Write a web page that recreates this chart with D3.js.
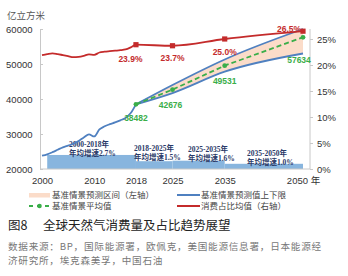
<!DOCTYPE html>
<html>
<head>
<meta charset="utf-8">
<script src="https://cdn.jsdelivr.net/npm/d3@7"></script>
<style>
  body { margin: 0; background: #fff; }
  svg { display: block; }
  text { font-family: "Liberation Sans", Arial, "Noto Sans CJK SC", sans-serif; }
  .cjk { font-family: "Noto Sans CJK SC", "Liberation Sans", sans-serif; }
</style>
</head>
<body>
<script>
// ---------- data ----------
const histYears = [2000,2001,2002,2003,2004,2005,2006,2007,2008,2009,2010,2011,2012,2013,2014,2015,2016,2017,2018];
const histConsumption = [23800,24200,24800,25500,26200,26700,27200,28000,29000,29900,29300,31300,32200,32800,33300,33900,34600,36000,38482];
const histShare = [21.9,22.1,22.25,22.1,21.9,21.7,21.5,21.55,21.75,22.05,21.95,22.4,22.55,22.65,22.75,22.85,23.0,23.4,23.9];

const fcYears = [2018, 2025, 2035, 2050];
const fcMean  = [38482, 42676, 49531, 57634];
const fcUpper = [38482, 44000, 51300, 60000];
const fcLower = [38482, 41700, 47800, 53000];
const fcShare = [23.9, 23.7, 25.0, 26.5];
const fcShareLabels = ["23.9%", "23.7%", "25.0%", "26.5%"];

const growthStart = [2001, 2018, 2025, 2035];
const growthEnd   = [2018, 2025, 2035, 2050];
const growthRate  = [2.7, 1.5, 1.6, 1.0];
const growthPeriod = ["2000-2018年", "2018-2025年", "2025-2035年", "2035-2050年"];

const xTicks = [2000, 2010, 2018, 2025, 2035, 2050];
const leftTicks = [20000, 30000, 40000, 50000, 60000];
const rightTicks = [0, 5, 10, 15, 20, 25];

// ---------- layout ----------
const W = 348, H = 276;
const svg = d3.select("body").append("svg").attr("width", W).attr("height", H);

const x = d3.scaleLinear().domain([2000, 2050]).range([42, 303]);
const yL = d3.scaleLinear().domain([20000, 60000]).range([169, 29]);
const yR = d3.scaleLinear().domain([0, 26.92]).range([169, 29]);

const C = {
  blue: "#4f80c0", bar: "#88b5de", band: "#fbdcc9", green: "#3aae49",
  red: "#c42b2b", axis: "#c8c8c8", text: "#333", navy: "#2c3a68"
};

// growth bars (right-axis % scale)
svg.append("g").selectAll("rect").data(growthRate).join("rect")
  .attr("x", (d,i) => x(growthStart[i]))
  .attr("width", (d,i) => x(growthEnd[i]) - x(growthStart[i]))
  .attr("y", d => yR(d))
  .attr("height", d => yR(0) - yR(d))
  .attr("fill", C.bar);

// growth labels
const glPos = [[69,144],[134,148],[188,149],[247,153.5]];
const gl = svg.append("g").attr("font-size", 7.5).attr("font-weight", "bold").attr("fill", C.navy);
growthRate.forEach((r,i) => {
  gl.append("text").attr("x", glPos[i][0]).attr("y", glPos[i][1]).attr("dy","0.35em")
    .style("font-family", '"Liberation Serif","Noto Sans CJK SC",serif').text(growthPeriod[i]);
  gl.append("text").attr("x", glPos[i][0]).attr("y", glPos[i][1] + 9).attr("dy","0.35em")
    .style("font-family", '"Liberation Serif","Noto Sans CJK SC",serif').text("年均增速" + r.toFixed(1) + "%");
});

// axes
svg.append("line").attr("x1", 40).attr("x2", 310).attr("y1", 169).attr("y2", 169)
  .attr("stroke", C.axis).attr("stroke-width", 1);

const gL = svg.append("g").attr("transform", "translate(40,0)")
  .call(d3.axisLeft(yL).tickValues(leftTicks).tickFormat(d3.format("d")).tickSizeInner(-3).tickSizeOuter(0).tickPadding(7.5));
const gR = svg.append("g").attr("transform", "translate(310,0)")
  .call(d3.axisRight(yR).tickValues(rightTicks).tickFormat(d => d + "%").tickSizeInner(3).tickSizeOuter(0).tickPadding(4));
gR.select(".domain").attr("d", `M0,${yR(0)}V29`);
[gL, gR].forEach(g => {
  g.select(".domain").attr("stroke", C.axis);
  g.selectAll(".tick line").attr("stroke", C.axis);
  g.selectAll(".tick text").attr("font-size", 9.5).attr("fill", C.text)
    .style("font-family", '"Liberation Sans", Arial, sans-serif');
});

const gB = svg.append("g").attr("transform", "translate(0,169)")
  .call(d3.axisBottom(x).tickValues(xTicks).tickFormat(d => d === 2050 ? "2050 年" : String(d)).tickSize(0).tickPadding(8));
gB.select(".domain").remove();
gB.selectAll(".tick text").attr("font-size", 9.5).attr("fill", C.text)
  .style("font-family", '"Liberation Sans","Noto Sans CJK SC", sans-serif');

svg.append("text").attr("class","cjk").attr("x", 7).attr("y", 16).attr("dy","0.35em")
  .attr("font-size", 9.5).attr("fill", "#555").text("亿立方米");

// forecast band
const fc = fcYears.map((y,i) => ({y, m: fcMean[i], u: fcUpper[i], l: fcLower[i], s: fcShare[i]}));
svg.append("path").datum(fc)
  .attr("d", d3.area().x(d => x(d.y)).y0(d => yL(d.l)).y1(d => yL(d.u)).curve(d3.curveMonotoneX))
  .attr("fill", C.band);
["u","l"].forEach(k => {
  svg.append("path").datum(fc)
    .attr("d", d3.line().x(d => x(d.y)).y(d => yL(d[k])).curve(d3.curveMonotoneX))
    .attr("fill","none").attr("stroke", C.blue).attr("stroke-width", 1.8);
});

// historical consumption
const hist = histYears.map((y,i) => ({y, v: histConsumption[i], s: histShare[i]}));
svg.append("path").datum(hist)
  .attr("d", d3.line().x(d => x(d.y)).y(d => yL(d.v)).curve(d3.curveMonotoneX))
  .attr("fill","none").attr("stroke", C.blue).attr("stroke-width", 1.8);

// mean dashed
svg.append("path").datum(fc)
  .attr("d", d3.line().x(d => x(d.y)).y(d => yL(d.m)))
  .attr("fill","none").attr("stroke", C.green).attr("stroke-width", 1.8).attr("stroke-dasharray","5,3");
svg.append("g").selectAll("circle").data(fc).join("circle")
  .attr("cx", d => x(d.y)).attr("cy", d => yL(d.m)).attr("r", 2.4).attr("fill", C.green);
const gOff = [[0,14],[-2,15.5],[0,15.5],[-4,23]];
svg.append("g").selectAll("text").data(fc).join("text")
  .attr("x", (d,i) => x(d.y) + gOff[i][0]).attr("y", (d,i) => yL(d.m) + gOff[i][1]).attr("dy","0.35em")
  .attr("text-anchor","middle").attr("font-size", 8.5).attr("font-weight","bold").attr("fill", C.green)
  .text(d => String(d.m));

// share line
const shareAll = hist.map(d => ({y: d.y, s: d.s})).concat(fc.slice(1).map(d => ({y: d.y, s: d.s})));
svg.append("path").datum(shareAll)
  .attr("d", d3.line().x(d => x(d.y)).y(d => yR(d.s)).curve(d3.curveMonotoneX))
  .attr("fill","none").attr("stroke", C.red).attr("stroke-width", 1.8);
svg.append("g").selectAll("rect").data(fc).join("rect")
  .attr("x", d => x(d.y) - 2.6).attr("y", d => yR(d.s) - 2.6).attr("width", 5.2).attr("height", 5.2)
  .attr("fill", C.red);
const rOff = [[-5.5,14],[0,12.5],[0,12.7],[-14,-2]];
svg.append("g").selectAll("text").data(fc).join("text")
  .attr("x", (d,i) => x(d.y) + rOff[i][0]).attr("y", (d,i) => yR(d.s) + rOff[i][1]).attr("dy","0.35em")
  .attr("text-anchor","middle").attr("font-size", 8.5).attr("font-weight","bold").attr("fill", C.red)
  .text((d,i) => fcShareLabels[i]);

// legend
const lg = svg.append("g").attr("font-size", 8.5).attr("fill", "#444");
lg.append("rect").attr("x", 29).attr("y", 193).attr("width", 21).attr("height", 4.5).attr("fill", C.band);
lg.append("text").attr("class","cjk").attr("x", 52).attr("y", 195).attr("dy","0.35em").text("基准情景预测区间（左轴）");
lg.append("line").attr("x1", 177).attr("x2", 200).attr("y1", 195).attr("y2", 195).attr("stroke", C.blue).attr("stroke-width", 2);
lg.append("text").attr("class","cjk").attr("x", 201).attr("y", 195).attr("dy","0.35em").text("基准情景预测值上下限");
lg.append("line").attr("x1", 29).attr("x2", 50).attr("y1", 206).attr("y2", 206).attr("stroke", C.green).attr("stroke-width", 1.8).attr("stroke-dasharray","4,4");
lg.append("circle").attr("cx", 39.5).attr("cy", 206).attr("r", 2.3).attr("fill", C.green);
lg.append("text").attr("class","cjk").attr("x", 52).attr("y", 206).attr("dy","0.35em").text("基准情景平均值");
lg.append("line").attr("x1", 177).attr("x2", 200).attr("y1", 206).attr("y2", 206).attr("stroke", C.red).attr("stroke-width", 2);
lg.append("text").attr("class","cjk").attr("x", 201).attr("y", 206).attr("dy","0.35em").text("消费占比均值（右轴）");

// title & source
svg.append("text").attr("class","cjk").attr("x", 8).attr("y", 226).attr("dy","0.35em")
  .attr("font-size", 12.5).attr("fill", "#222").text("图8");
svg.append("text").attr("class","cjk").attr("x", 43).attr("y", 226).attr("dy","0.35em")
  .attr("font-size", 12.5).attr("fill", "#222").text("全球天然气消费量及占比趋势展望");
svg.append("text").attr("class","cjk").attr("x", 8).attr("y", 247).attr("dy","0.35em")
  .attr("font-size", 9.6).attr("letter-spacing", 0.75).attr("fill", "#777").text("数据来源：BP，国际能源署，欧佩克，美国能源信息署，日本能源经");
svg.append("text").attr("class","cjk").attr("x", 8).attr("y", 261).attr("dy","0.35em")
  .attr("font-size", 9.6).attr("letter-spacing", 0.75).attr("fill", "#777").text("济研究所，埃克森美孚，中国石油");
</script>
</body>
</html>
